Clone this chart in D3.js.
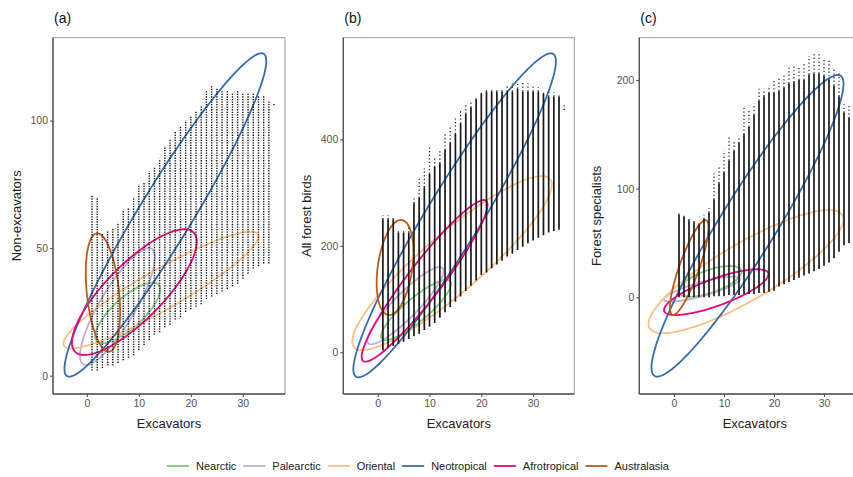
<!DOCTYPE html>
<html>
<head>
<meta charset="utf-8">
<script src="https://cdn.jsdelivr.net/npm/d3@7"></script>
<style>
  body { margin: 0; background: #fff; }
  svg { font-family: "Liberation Sans", Arial, sans-serif; display: block; }
</style>
</head>
<body>
<svg id="chart" width="853" height="477"></svg>
<script>
// Realms and colours (legend order)
const realms = ['Nearctic', 'Palearctic', 'Oriental', 'Neotropical', 'Afrotropical', 'Australasia'];
const realmColors = ['#7FC97F', '#BEAED4', '#FDC086', '#386CB0', '#F0027F', '#BF5B17'];

// Excavator counts (x of each point column)
const excavators = [1, 2, 3, 4, 5, 6, 7, 8, 9, 10, 11, 12, 13, 14, 15, 16, 17, 18,
  19, 20, 21, 22, 23, 24, 25, 26, 27, 28, 29, 30, 31, 32, 33, 34, 35, 36];

// (a) non-excavators: lowest and highest value per column
const nonExcLow = [2, 2, 3, 4, 4, 5, 6, 7, 8, 10, 12, 14, 16, 17, 19, 20, 22, 23,
  25, 26, 27, 28, 30, 31, 32, 33, 34, 35, 36, 38, 40, 42, 43, 44, 44, 106];
const nonExcHigh = [71, 70, 56, 57, 58, 60, 65, 66, 70, 75, 76, 80, 82, 85, 90, 93, 96, 98,
  100, 102, 104, 106, 112, 114, 113, 112, 112, 111, 112, 111, 111, 111, 110, 110, 108, 107];

// (b) all forest birds: low, top of dense part, highest
const allLow = [4, 8, 12, 16, 20, 25, 30, 35, 42, 48, 55, 65, 75, 85, 95, 105, 115, 125,
  135, 145, 150, 158, 165, 172, 180, 185, 192, 198, 205, 210, 215, 220, 225, 228, 230, 455];
const allSolid = [250, 250, 250, 225, 225, 225, 280, 290, 310, 335, 348, 355, 380, 393, 410, 430, 448, 460,
  475, 485, 490, 490, 490, 490, 490, 490, 495, 490, 490, 490, 490, 485, 480, 480, 480, 455];
const allHigh = [258, 258, 255, 230, 228, 235, 290, 327, 345, 385, 367, 380, 410, 424, 440, 455, 468, 470,
  480, 488, 492, 492, 492, 495, 500, 505, 508, 508, 505, 502, 498, 490, 490, 488, 487, 465];

// (c) forest specialists: low, top of dense part, highest
const specLow = [0, 0, 0, 0, 0, 0, 0, 1, 1, 1, 2, 2, 2, 3, 3, 3, 4, 4,
  5, 6, 10, 12, 14, 16, 18, 20, 22, 24, 26, 29, 32, 36, 42, 48, 50, 50];
const specSolid = [76, 74, 71, 69, 67, 72, 78, 90, 105, 115, 126, 135, 142, 150, 157, 168, 181, 185,
  188, 188, 190, 193, 197, 198, 200, 200, 205, 206, 206, 204, 200, 195, 185, 170, 165, 165];
const specHigh = [79, 76, 74, 72, 70, 76, 82, 114, 120, 135, 148, 145, 148, 175, 172, 178, 192, 192,
  195, 200, 203, 205, 213, 213, 212, 215, 222, 224, 225, 220, 218, 210, 206, 178, 177, 177];

// Ellipses per realm: [centre x, centre y, half x-extent, half y-extent, correlation]
const ellipsesA = [
  [7.85, 24.6, 6.25, 11.9, 0.77],
  [5.9, 27.1, 7.2, 22.9, 0.84],
  [14.25, 33.6, 18.75, 22.9, 0.92],
  [15.1, 63, 19.4, 63.4, 0.952],
  [9.14, 32.75, 12.0, 24.65, 0.8],
  [3.1, 32.6, 3.3, 23.2, -0.33]
];
const ellipsesB = [
  [7.4, 79.5, 6.75, 56.5, 0.87],
  [5.35, 87.5, 7.35, 72.5, 0.9],
  [14.35, 167.65, 19.25, 163.35, 0.9],
  [14.85, 257.25, 19.55, 304.25, 0.95],
  [9.05, 134.2, 12.15, 151.8, 0.94],
  [3.35, 159.25, 3.55, 89.25, 0.32]
];
const ellipsesC = [
  [7.2, 14.7, 6.3, 14.1, 0.63],
  [5.6, 7.5, 7.6, 11.5, 0.82],
  [14.4, 23.65, 19.5, 56.65, 0.85],
  [14.7, 65.8, 19.2, 138.8, 0.94],
  [8.45, 4.75, 10.45, 21.05, 0.78],
  [3.05, 27.4, 3.85, 43.7, 0.84]
];

const svg = d3.select('#chart');

const panels = [
  {
    label: '(a)', ytitle: 'Non-excavators',
    x: d3.scaleLinear().domain([-6.5, 38.1]).range([53, 285]),
    y: d3.scaleLinear().domain([-7.2, 132.5]).range([394, 37.7]),
    yticks: [0, 50, 100], titleX: 21,
    low: nonExcLow, solid: nonExcHigh, high: nonExcHigh, dotted: true,
    ellipses: ellipsesA
  },
  {
    label: '(b)', ytitle: 'All forest birds',
    x: d3.scaleLinear().domain([-6.64, 37.95]).range([343.3, 574.3]),
    y: d3.scaleLinear().domain([-78.3, 590.8]).range([394, 37.7]),
    yticks: [0, 200, 400], titleX: 311,
    low: allLow, solid: allSolid, high: allHigh, dotted: false,
    ellipses: ellipsesB
  },
  {
    label: '(c)', ytitle: 'Forest specialists',
    x: d3.scaleLinear().domain([-6.94, 39.26]).range([639.3, 870.3]),
    y: d3.scaleLinear().domain([-89, 238.9]).range([394, 37.7]),
    yticks: [0, 100, 200], titleX: 601,
    low: specLow, solid: specSolid, high: specHigh, dotted: false,
    ellipses: ellipsesC
  }
];

function ellipsePoints(e) {
  const [cx, cy, a, b, r] = e;
  const s = Math.sqrt(1 - r * r);
  return d3.range(0, 2 * Math.PI, Math.PI / 90).map(t =>
    [cx + a * Math.cos(t), cy + b * (r * Math.cos(t) + s * Math.sin(t))]);
}

panels.forEach(p => {
  const [x0, x1] = p.x.range();
  const [y0, y1] = p.y.range();

  // Panel border
  svg.append('rect')
    .attr('x', x0).attr('y', y1)
    .attr('width', x1 - x0).attr('height', y0 - y1)
    .attr('fill', 'none').attr('stroke', '#9a9a9a').attr('stroke-width', 1);

  const clipId = 'clip' + p.label.replace(/\W/g, '');
  svg.append('clipPath').attr('id', clipId)
    .append('rect').attr('x', x0).attr('y', y1).attr('width', x1 - x0).attr('height', y0 - y1);

  const g = svg.append('g').attr('clip-path', `url(#${clipId})`);

  // Ellipses
  const line = d3.line().x(d => p.x(d[0])).y(d => p.y(d[1])).curve(d3.curveLinearClosed);
  g.selectAll('path.ell')
    .data(p.ellipses)
    .enter()
    .append('path')
    .attr('class', 'ell')
    .attr('d', d => line(ellipsePoints(d)))
    .attr('fill', 'none')
    .attr('stroke', (d, i) => realmColors[i])
    .attr('stroke-width', 1.8);

  // Point columns
  const cols = excavators.map((xv, i) => ({ x: xv, lo: p.low[i], mid: p.solid[i], hi: p.high[i] }));
  if (p.dotted) {
    g.selectAll('line.col')
      .data(cols)
      .enter()
      .append('line')
      .attr('x1', d => p.x(d.x)).attr('x2', d => p.x(d.x))
      .attr('y1', d => p.y(d.lo)).attr('y2', d => p.y(d.hi))
      .attr('stroke', '#111')
      .attr('stroke-width', 1.4)
      .attr('stroke-dasharray', '1.3 1.25');
  } else {
    g.selectAll('line.col')
      .data(cols)
      .enter()
      .append('line')
      .attr('x1', d => p.x(d.x)).attr('x2', d => p.x(d.x))
      .attr('y1', d => p.y(d.lo)).attr('y2', d => p.y(d.mid))
      .attr('stroke', '#1a1a1a')
      .attr('stroke-width', 1.7);
    g.selectAll('line.tail')
      .data(cols)
      .enter()
      .append('line')
      .attr('x1', d => p.x(d.x)).attr('x2', d => p.x(d.x))
      .attr('y1', d => p.y(d.mid)).attr('y2', d => p.y(d.hi))
      .attr('stroke', '#222')
      .attr('stroke-width', 1.3)
      .attr('stroke-dasharray', '1.2 2.4');
  }

  // Axes
  const xAxis = svg.append('g')
    .attr('transform', `translate(0, ${y0})`)
    .call(d3.axisBottom(p.x).tickValues([0, 10, 20, 30]).tickSize(3).tickPadding(3));
  const yAxis = svg.append('g')
    .attr('transform', `translate(${x0}, 0)`)
    .call(d3.axisLeft(p.y).tickValues(p.yticks).tickSize(3).tickPadding(2));
  [xAxis, yAxis].forEach(ax => {
    ax.select('.domain').remove();
    ax.selectAll('line').attr('stroke', '#444');
    ax.selectAll('text').attr('fill', '#555').style('font-size', '10.5px')
      .style('font-family', '"Liberation Sans", Arial, sans-serif');
  });

  // Darker axis lines left and bottom
  svg.append('line').attr('x1', x0).attr('x2', x0).attr('y1', y1).attr('y2', y0)
    .attr('stroke', '#555').attr('stroke-width', 1.4);
  svg.append('line').attr('x1', x0).attr('x2', x1).attr('y1', y0).attr('y2', y0)
    .attr('stroke', '#555').attr('stroke-width', 1.4);

  // Titles
  svg.append('text')
    .attr('x', (x0 + x1) / 2).attr('y', 428)
    .attr('text-anchor', 'middle')
    .style('font-size', '13px').style('fill', '#222')
    .text('Excavators');
  svg.append('text')
    .attr('transform', `translate(${p.titleX}, ${(y0 + y1) / 2}) rotate(-90)`)
    .attr('text-anchor', 'middle')
    .style('font-size', '13px').style('fill', '#222')
    .text(p.ytitle);
  svg.append('text')
    .attr('x', x0 + 1).attr('y', 23)
    .style('font-size', '14px').style('fill', '#111')
    .text(p.label);
});

// Legend
const legend = svg.append('g').attr('transform', 'translate(167, 466)');
let lx = 0;
realms.forEach((name, i) => {
  legend.append('line')
    .attr('x1', lx).attr('x2', lx + 22).attr('y1', 0).attr('y2', 0)
    .attr('stroke', realmColors[i]).attr('stroke-width', 1.8);
  const t = legend.append('text')
    .attr('x', lx + 29).attr('y', 4)
    .style('font-size', '11px').style('fill', '#222')
    .text(name);
  lx += 29 + t.node().getComputedTextLength() + 7;
});
</script>
</body>
</html>
